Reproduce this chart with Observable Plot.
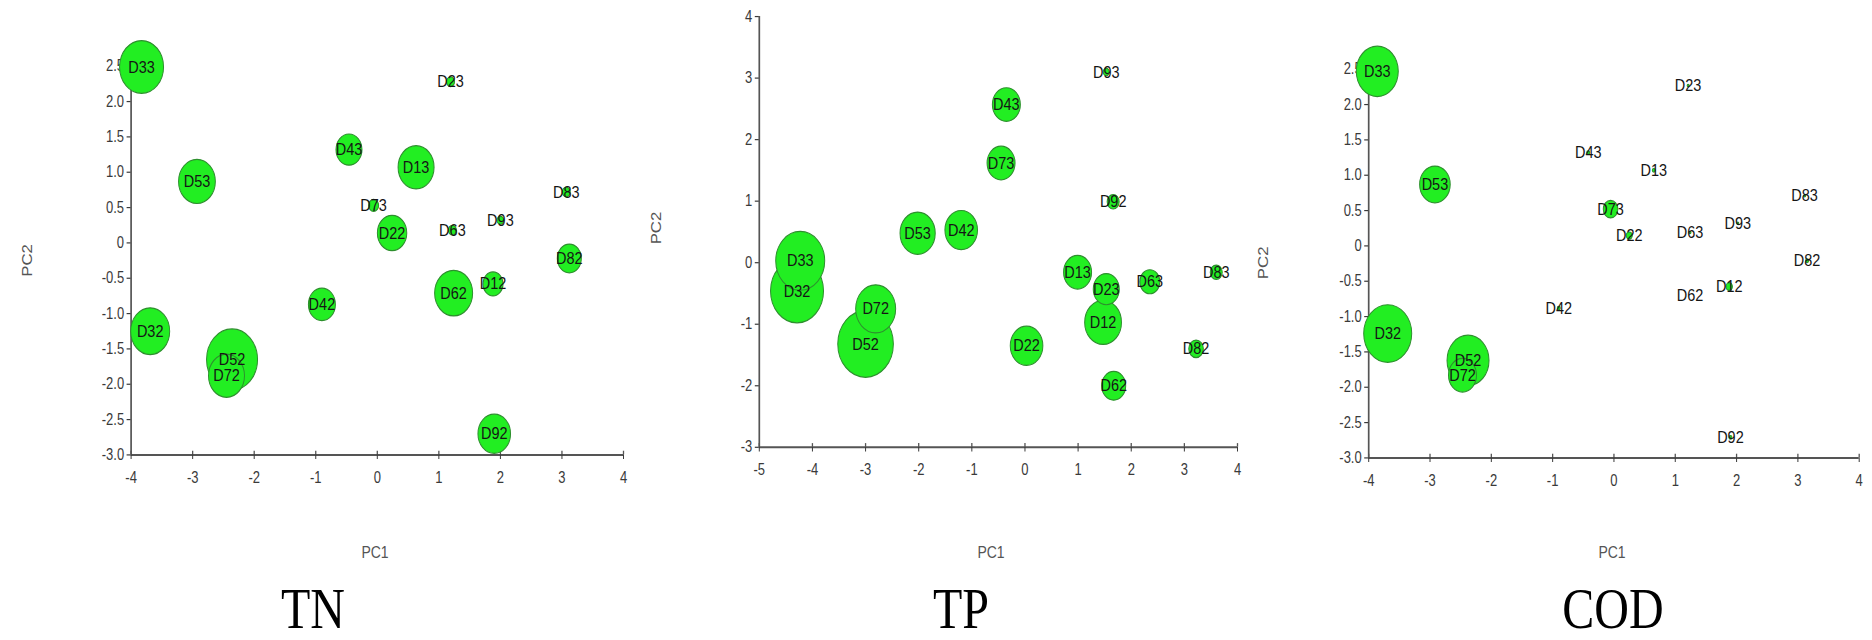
<!DOCTYPE html>
<html><head><meta charset="utf-8">
<script src="https://cdn.jsdelivr.net/npm/d3@7"></script>
<script src="https://cdn.jsdelivr.net/npm/@observablehq/plot@0.6"></script>
<style>
html,body{margin:0;padding:0;background:#fff;overflow:hidden;width:1872px;height:640px;}
#outer{position:relative;width:1872px;height:640px;overflow:hidden;}
#wrap{position:absolute;left:0;top:0;width:1872px;height:533.33px;transform:scaleY(1.2);transform-origin:0 0;font-family:"Liberation Sans",Arial,sans-serif;}
.lab{position:absolute;color:#555;font-size:14px;line-height:1;white-space:nowrap;transform:translate(-50%,-50%);}
.lab.rot{transform:translate(-50%,-50%) rotate(-90deg);}
.title{position:absolute;font-family:"Liberation Serif","Times New Roman",serif;font-size:48px;line-height:0.7;color:#000;transform:translate(-50%,-50%);white-space:nowrap;}
</style></head><body><div id="outer"><div id="wrap"></div></div>
<script>
// ---------- data ----------
const stations = ["D12","D22","D32","D42","D52","D62","D72","D82","D92",
                  "D13","D23","D33","D43","D53","D63","D73","D83","D93"];

const tnPC1  = [1.88, 0.24, -3.69, -0.90, -2.36, 1.24, -2.45, 3.12, 1.90,
                0.63, 1.19, -3.83, -0.46, -2.93, 1.22, -0.06, 3.07, 2.00];
const tnPC2  = [-0.58, 0.14, -1.25, -0.87, -1.65, -0.71, -1.88, -0.22, -2.70,
                1.07, 2.28, 2.49, 1.32, 0.87, 0.18, 0.53, 0.72, 0.32];
const tnSize = [10, 14.7, 19.5, 13.5, 25.5, 19, 18, 12, 16.3,
                18, 4, 22, 13, 18.4, 4, 5, 4, 3.3];

const tpPC1  = [1.47, 0.03, -4.29, -1.20, -3.00, 1.67, -2.81, 3.22, 1.66,
                0.99, 1.53, -4.23, -0.35, -2.02, 2.35, -0.45, 3.60, 1.53];
const tpPC2  = [-0.97, -1.35, -0.46, 0.53, -1.32, -2.00, -0.75, -1.40, 0.99,
                -0.155, -0.43, 0.03, 2.57, 0.48, -0.31, 1.62, -0.155, 3.10];
const tpSize = [18.4, 16.3, 26.5, 16.3, 27.8, 12, 20, 7.3, 6,
                14, 13, 24.5, 14, 17.6, 10, 14, 6, 3];

const codPC1  = [1.88, 0.25, -3.69, -0.90, -2.38, 1.24, -2.47, 3.15, 1.90,
                 0.65, 1.21, -3.86, -0.42, -2.92, 1.24, -0.055, 3.11, 2.02];
const codPC2  = [-0.575, 0.146, -1.24, -0.88, -1.62, -0.70, -1.83, -0.21, -2.71,
                 1.07, 2.27, 2.47, 1.32, 0.87, 0.19, 0.52, 0.71, 0.32];
const codSize = [3.2, 3, 24, 1.5, 21, 0, 14, 1.5, 1.5,
                 1.5, 1, 21, 1.5, 15.3, 1, 7.3, 1, 1];

const xTicks8   = [-4, -3, -2, -1, 0, 1, 2, 3, 4];
const xLabels8  = ["-4", "-3", "-2", "-1", "0", "1", "2", "3", "4"];
const xTicksTP  = [-5, -4, -3, -2, -1, 0, 1, 2, 3, 4];
const xLabelsTP = ["-5", "-4", "-3", "-2", "-1", "0", "1", "2", "3", "4"];
const yTicksHalf  = [-3, -2.5, -2, -1.5, -1, -0.5, 0, 0.5, 1, 1.5, 2, 2.5];
const yLabelsHalf = ["-3.0", "-2.5", "-2.0", "-1.5", "-1.0", "-0.5", "0", "0.5", "1.0", "1.5", "2.0", "2.5"];
const yTicksTP  = [-3, -2, -1, 0, 1, 2, 3, 4];
const yLabelsTP = ["-3", "-2", "-1", "0", "1", "2", "3", "4"];

const panelTitles = ["TN", "TP", "COD"];
const xAxisName = "PC1";
const yAxisName = "PC2";

// ---------- drawing ----------
const wrap = document.getElementById("wrap");

function panel(cfg) {
  const rows = stations.map((s, i) => ({name: s, x: cfg.pc1[i], y: cfg.pc2[i], w: cfg.size[i]}));
  const xMin = cfg.xTicks[0], xMax = cfg.xTicks[cfg.xTicks.length - 1];
  const yMin = cfg.yTicks[0];
  const fmtX = d => cfg.xLabels[cfg.xTicks.indexOf(d)];
  const fmtY = d => cfg.yLabels[cfg.yTicks.indexOf(d)];
  const chart = Plot.plot({
    width: cfg.width,
    height: 420,
    marginLeft: cfg.ml, marginRight: cfg.mr, marginTop: cfg.mt, marginBottom: cfg.mb,
    style: {fontFamily: "Liberation Sans, Arial, sans-serif", fontSize: "13px", color: "#3a3a3a", background: "transparent", overflow: "visible"},
    x: {domain: [xMin, xMax], label: null},
    y: {domain: [yMin, cfg.yTop], label: null},
    r: {type: "linear", domain: [0, 30], range: [0, 30]},
    marks: [
      Plot.ruleY([yMin], {stroke: "#555", strokeWidth: 1.7}),
      Plot.ruleX([xMin], {x: d => d, y1: yMin, y2: cfg.yTop, stroke: "#555", strokeWidth: 1.7}),
      Plot.ruleX(cfg.xTicks, {x: d => d, y1: yMin, y2: yMin, insetTop: -3, stroke: "#555", strokeWidth: 1.3}),
      Plot.axisX({ticks: cfg.xTicks, tickFormat: fmtX, tickSize: 4, tickPadding: 10, fontSize: 13, label: null}),
      Plot.axisY({ticks: cfg.yTicks, tickFormat: fmtY, tickSize: 4, tickPadding: 3, fontSize: 13, label: null}),
      Plot.dot(rows, {x: "x", y: "y", r: "w", fill: "#22ee22", stroke: "#2e8f2e", strokeWidth: 1}),
      Plot.text(rows, {x: "x", y: "y", text: "name", fontSize: 14.5, fill: "#151515"})
    ]
  });
  chart.style.position = "absolute";
  chart.style.left = cfg.left + "px";
  chart.style.top = "0px";
  wrap.appendChild(chart);
}

panel({pc1: tnPC1, pc2: tnPC2, size: tnSize, xTicks: xTicks8, xLabels: xLabels8,
       yTicks: yTicksHalf, yLabels: yLabelsHalf, yTop: 2.6,
       left: 0, width: 636, ml: 130.6, mr: 13, mt: 48.8, mb: 41.4});
panel({pc1: tpPC1, pc2: tpPC2, size: tpSize, xTicks: xTicksTP, xLabels: xLabelsTP,
       yTicks: yTicksTP, yLabels: yLabelsTP, yTop: 4,
       left: 636, width: 612, ml: 122.8, mr: 11, mt: 13.3, mb: 47.75});
panel({pc1: codPC1, pc2: codPC2, size: codSize, xTicks: xTicks8, xLabels: xLabels8,
       yTicks: yTicksHalf, yLabels: yLabelsHalf, yTop: 2.6,
       left: 1248, width: 624, ml: 120.2, mr: 13.3, mt: 51.3, mb: 38.9});

function addLabel(cls, text, x, y) {
  const d = document.createElement("div");
  d.className = cls;
  d.textContent = text;
  d.style.left = x + "px";
  d.style.top = y + "px";
  wrap.appendChild(d);
}
const pc1Pos = [[375, 459.7], [991, 460], [1612, 460]];
const pc2Pos = [[27, 216.7], [656, 190], [1263, 219]];
const titlePos = [[313, 506.5], [961, 506.5], [1613, 506.5]];
panelTitles.forEach((t, i) => {
  addLabel("lab", xAxisName, pc1Pos[i][0], pc1Pos[i][1]);
  addLabel("lab rot", yAxisName, pc2Pos[i][0], pc2Pos[i][1]);
  addLabel("title", t, titlePos[i][0], titlePos[i][1]);
});
</script>
</body></html>
